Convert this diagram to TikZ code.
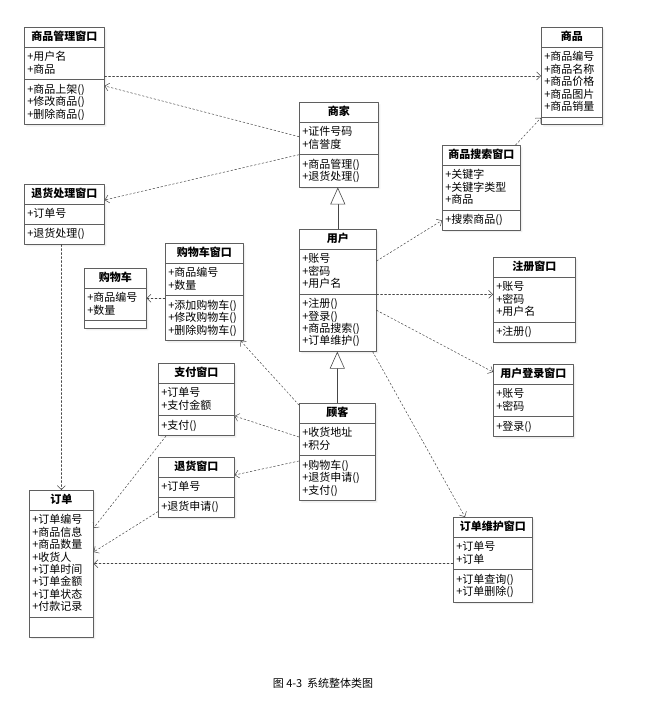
\documentclass[tikz,border=0pt]{standalone}
\usepackage{fontspec}
\setmainfont{Noto Sans CJK SC}
\usepackage{tikz}
\usetikzlibrary{arrows.meta,shapes.multipart,shadows}
\definecolor{boxgray}{RGB}{95,95,95}
\definecolor{linegray}{RGB}{70,70,70}
\setlength{\parindent}{0pt}
\newcommand{\umlfont}{\fontsize{11}{12.4}\selectfont}
\newcommand{\umltitle}[1]{{\centering\bfseries\smash{\raisebox{-1.2pt}{#1}}\strut\par}}
\newcommand{\itm}[1]{\smash{\raisebox{-1.2pt}{#1}}\strut\par}
\tikzset{
  umlclass/.style={draw=boxgray,fill=white,line width=0.6pt,rectangle split,rectangle split parts=3,
    rectangle split draw splits=true,anchor=north west,inner xsep=3pt,inner ysep=3.5pt,font=\umlfont,
    drop shadow={shadow xshift=2pt,shadow yshift=-2pt,fill=black!12}},
  dep/.style={draw=linegray,line width=0.5pt,dash pattern=on 2pt off 2pt,-{Straight Barb[length=4pt,width=8pt]}},
  gen/.style={draw=linegray,line width=0.6pt,-{Triangle[open,length=17pt,width=15pt,fill=white]}}
}
\begin{document}
\begin{tikzpicture}[line cap=round,line join=round,x=1pt,y=-1pt]
\useasboundingbox (0,0) rectangle (646,726);
\node[umlclass,text width=74pt] (mgrwin) at (24,27) {\umltitle{商品管理窗口}\nodepart{two}\itm{+用户名}\itm{+商品}\nodepart{three}\itm{+商品上架()}\itm{+修改商品()}\itm{+删除商品()}};
\node[umlclass,text width=55pt] (goods) at (541,27) {\umltitle{商品}\nodepart{two}\itm{+商品编号}\itm{+商品名称}\itm{+商品价格}\itm{+商品图片}\itm{+商品销量}\nodepart{three}};
\node[umlclass,text width=73pt] (seller) at (299,102) {\umltitle{商家}\nodepart{two}\itm{+证件号码}\itm{+信誉度}\nodepart{three}\itm{+商品管理()}\itm{+退货处理()}};
\node[umlclass,text width=72pt] (searchwin) at (442,145) {\umltitle{商品搜索窗口}\nodepart{two}\itm{+关键字}\itm{+关键字类型}\itm{+商品}\nodepart{three}\itm{+搜索商品()}};
\node[umlclass,text width=74pt] (returnwin) at (24,184) {\umltitle{退货处理窗口}\nodepart{two}\itm{+订单号}\nodepart{three}\itm{+退货处理()}};
\node[umlclass,text width=71pt] (user) at (299,229) {\umltitle{用户}\nodepart{two}\itm{+账号}\itm{+密码}\itm{+用户名}\nodepart{three}\itm{+注册()}\itm{+登录()}\itm{+商品搜索()}\itm{+订单维护()}};
\node[umlclass,text width=72pt] (cartwin) at (165,243) {\umltitle{购物车窗口}\nodepart{two}\itm{+商品编号}\itm{+数量}\nodepart{three}\itm{+添加购物车()}\itm{+修改购物车()}\itm{+删除购物车()}};
\node[umlclass,text width=56pt] (cart) at (84,268) {\umltitle{购物车}\nodepart{two}\itm{+商品编号}\itm{+数量}\nodepart{three}};
\node[umlclass,text width=76pt] (regwin) at (493,257) {\umltitle{注册窗口}\nodepart{two}\itm{+账号}\itm{+密码}\itm{+用户名}\nodepart{three}\itm{+注册()}};
\node[umlclass,text width=74pt] (loginwin) at (493,364) {\umltitle{用户登录窗口}\nodepart{two}\itm{+账号}\itm{+密码}\nodepart{three}\itm{+登录()}};
\node[umlclass,text width=70pt] (paywin) at (158,363) {\umltitle{支付窗口}\nodepart{two}\itm{+订单号}\itm{+支付金额}\nodepart{three}\itm{+支付()}};
\node[umlclass,text width=70pt] (customer) at (299,403) {\umltitle{顾客}\nodepart{two}\itm{+收货地址}\itm{+积分}\nodepart{three}\itm{+购物车()}\itm{+退货申请()}\itm{+支付()}};
\node[umlclass,text width=70pt] (refundwin) at (158,457) {\umltitle{退货窗口}\nodepart{two}\itm{+订单号}\nodepart{three}\itm{+退货申请()}};
\node[umlclass,text width=58pt] (order) at (29,490) {\umltitle{订单}\nodepart{two}\itm{+订单编号}\itm{+商品信息}\itm{+商品数量}\itm{+收货人}\itm{+订单时间}\itm{+订单金额}\itm{+订单状态}\itm{+付款记录}\nodepart{three}\strut};
\node[umlclass,text width=73pt] (orderwin) at (453,517) {\umltitle{订单维护窗口}\nodepart{two}\itm{+订单号}\itm{+订单}\nodepart{three}\itm{+订单查询()}\itm{+订单删除()}};
\node[font=\fontsize{11}{13}\selectfont] (caption) at (323,683) {图 4-3\ \ 系统整体类图};
\draw[gen] (user.north) -- (user.north |- seller.south);
\draw[gen] (customer.north) -- (customer.north |- user.south);
\draw[dep] (mgrwin.east) -- (mgrwin.east -| goods.west);
\draw[dep] ([yshift=8pt]seller.west) -- ([yshift=-10pt]mgrwin.east);
\draw[dep] ([yshift=-10pt]seller.west) -- ([yshift=-16pt]returnwin.north east);
\draw[dep] ([yshift=-32pt]user.north east) -- ([yshift=10pt]searchwin.south west);
\draw[dep] ([xshift=-5pt]searchwin.north east) -- ([yshift=7pt]goods.south west);
\draw[dep] ([yshift=-4pt]user.east) -- ([yshift=-4pt]user.east -| regwin.west);
\draw[dep] ([yshift=-20pt]user.east) -- ([yshift=-8pt]loginwin.north west);
\draw[dep] ([xshift=-4pt]user.south east) -- ([xshift=12pt]orderwin.north west);
\draw[dep] ([yshift=-4pt]orderwin.west) -- ([yshift=-4pt]orderwin.west -| order.east);
\draw[dep] (order.north |- returnwin.south) -- (order.north);
\draw[dep] ([xshift=8pt]paywin.south west) -- ([yshift=-38pt]order.north east);
\draw[dep] ([yshift=6pt]refundwin.south west) -- ([yshift=-62pt]order.north east);
\draw[dep] (cart.east -| cartwin.west) -- (cart.east);
\draw[dep] ([yshift=-2pt]customer.north west) -- ([xshift=-3pt]cartwin.south east);
\draw[dep] ([yshift=-34pt]customer.north west) -- ([yshift=20pt]paywin.south east);
\draw[dep] ([yshift=-58pt]customer.north west) -- ([yshift=-18pt]refundwin.north east);
\end{tikzpicture}
\end{document}
